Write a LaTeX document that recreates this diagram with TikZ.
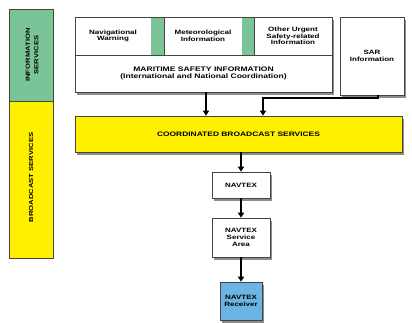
\documentclass[tikz,border=0pt]{standalone}
\usepackage{fontspec}
\setmainfont{Liberation Sans}[FakeStretch=1.3]
\usetikzlibrary{shadows,arrows.meta}
\definecolor{infogreen}{RGB}{122,196,152}
\definecolor{bcyellow}{RGB}{255,240,0}
\definecolor{rcvblue}{RGB}{108,180,228}
\definecolor{edge}{RGB}{70,70,60}
\tikzset{
  txt/.style={font=\fontsize{6.2}{6.8}\selectfont\bfseries},
  box/.style={draw=edge, line width=0.6bp, fill=white, inner sep=1bp, align=center, txt,
    drop shadow={shadow xshift=2bp, shadow yshift=-2.5bp, fill=black!45, opacity=1}},
  plain/.style={draw=edge, line width=0.6bp, inner sep=0pt, align=center, fill=white, txt},
  strip/.style={fill=infogreen, draw=none, inner sep=0pt},
  flow/.style={line width=1.6bp, -{Triangle[length=5bp,width=6bp]}},
  side/.style={draw=edge, line width=0.6bp, inner sep=0pt},
  sidetxt/.style={rotate=90, align=center, font=\fontsize{5.9}{8.5}\selectfont\bfseries}
}
\begin{document}
\begin{tikzpicture}[x=1bp,y=-1bp]
\useasboundingbox (0,0) rectangle (412,323);
% side bars
\node[side, fill=infogreen, minimum width=44bp, minimum height=92bp] (infoside) at (31,55) {};
\node[sidetxt] (infotxt) at (32,55) {INFORMATION\\SERVICES};
\node[side, fill=bcyellow, minimum width=44bp, minimum height=157bp] (bcside) at (31,179.5) {};
\node[sidetxt] (bctxt) at (31,177.5) {BROADCAST SERVICES};
% MSI group
\node[box, minimum width=257bp, minimum height=75bp] (msigroup) at (203.5,54.5) {};
\node[plain, minimum width=257bp, minimum height=37bp, font=\fontsize{6.6}{7}\selectfont\bfseries] (msi) at (203.5,73.5) {MARITIME SAFETY INFORMATION\\(International and National Coordination)};
\node[plain, minimum width=76bp, minimum height=38bp] (nav) at (113,36) {Navigational\\Warning};
\node[strip, minimum width=13bp, minimum height=37bp] (s1) at (157.5,36) {};
\node[plain, minimum width=78bp, minimum height=38bp] (met) at (203,36) {Meteorological\\Information};
\node[strip, minimum width=12bp, minimum height=37bp] (s2) at (248,36) {};
\node[plain, minimum width=78bp, minimum height=38bp] (other) at (293,36) {Other Urgent\\Safety-related\\Information};
% SAR
\node[box, minimum width=64bp, minimum height=78bp] (sar) at (372,56) {SAR\\Information};
% coordinated
\node[box, fill=bcyellow, minimum width=327bp, minimum height=36bp, font=\fontsize{6.5}{7}\selectfont\bfseries] (coord) at (238.5,134) {COORDINATED BROADCAST SERVICES};
% NAVTEX chain
\node[box, minimum width=58bp, minimum height=26bp] (navtex) at (241,185) {NAVTEX};
\node[box, minimum width=58bp, minimum height=39bp] (area) at (241,237.5) {NAVTEX\\Service\\Area};
\node[box, fill=rcvblue, minimum width=42bp, minimum height=38bp] (recv) at (241,301) {NAVTEX\\Receiver};
% arrows
\draw[flow] (msigroup.south -| 206,0) -- (coord.north -| 206,0);
\coordinate (bend1) at (378,98);
\coordinate (bend2) at (263,98);
\draw[flow] (sar.south -| bend1) -- (bend1) -- (bend2) -- (coord.north -| bend2);
\draw[flow] (coord.south -| navtex.north) -- (navtex.north);
\draw[flow] (navtex.south) -- (area.north);
\draw[flow] (area.south) -- (recv.north);
\end{tikzpicture}
\end{document}
